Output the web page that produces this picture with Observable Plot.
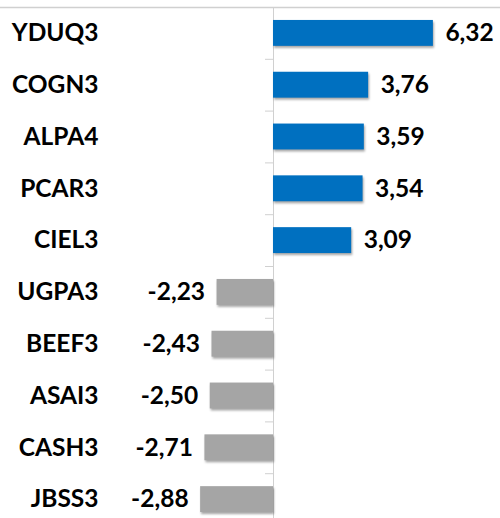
<!DOCTYPE html>
<html>
<head>
<meta charset="utf-8">
<script src="https://cdn.jsdelivr.net/npm/d3@7"></script>
<script src="https://cdn.jsdelivr.net/npm/@observablehq/plot@0.6"></script>
<style>
  html, body { margin: 0; padding: 0; background: #fff; }
  #chart svg { display: block; overflow: visible; }
  g[aria-label="bar"] rect { filter: drop-shadow(1.5px 2px 1.2px rgba(0,0,0,0.35)); }
</style>
</head>
<body>
<div id="chart"></div>
<script>
const tickers = ["YDUQ3","COGN3","ALPA4","PCAR3","CIEL3","UGPA3","BEEF3","ASAI3","CASH3","JBSS3"];
const changes = [6.32, 3.76, 3.59, 3.54, 3.09, -2.23, -2.43, -2.50, -2.71, -2.88];

const data = tickers.map((t, i) => ({ticker: t, value: changes[i]}));
const fmt = v => v.toFixed(2).replace(".", ",");
const step = 51.8;
const font = "Lato, 'Open Sans', sans-serif";
const fs = 24.5;

const chart = Plot.plot({
  width: 500,
  height: 518,
  marginTop: 0, marginBottom: 0, marginLeft: 0, marginRight: 0,
  style: { fontFamily: font, background: "#fff", overflow: "visible" },
  x: { domain: [-273 / 25.3, 227 / 25.3], range: [0, 500], axis: null },
  y: { domain: tickers, range: [7, 525], paddingInner: 0.5, paddingOuter: 0.25, round: false, axis: null },
  marks: [
    // top border line
    Plot.ruleY([tickers[0]], { y: d => d, dy: -step / 2, stroke: "#d0d0d0", strokeWidth: 1.5 }),
    // small category tick marks left of the zero line
    Plot.ruleY(tickers.slice(1), { y: d => d, dy: -step / 2, x1: -8 / 25.3, x2: 0, stroke: "#d0d0d0" }),
    // zero line
    Plot.ruleX([0], { stroke: "#d0d0d0", insetTop: 7 }),
    Plot.barX(data, {
      y: "ticker",
      x: "value",
      fill: d => d.value >= 0 ? "#0070C0" : "#A5A5A5"
    }),
    // ticker labels
    Plot.text(data, {
      y: "ticker",
      text: "ticker",
      frameAnchor: "left",
      dx: 98,
      textAnchor: "end",
      fontSize: fs,
      fontWeight: "bold",
      fill: "#000"
    }),
    // value labels
    Plot.text(data, {
      y: "ticker",
      x: "value",
      text: d => fmt(d.value),
      textAnchor: "start",
      filter: d => d.value >= 0,
      fontSize: fs,
      fontWeight: "bold",
      fill: "#000",
      dx: 12
    }),
    Plot.text(data, {
      y: "ticker",
      x: "value",
      text: d => fmt(d.value),
      textAnchor: "end",
      filter: d => d.value < 0,
      fontSize: fs,
      fontWeight: "bold",
      fill: "#000",
      dx: -12
    })
  ]
});
document.getElementById("chart").appendChild(chart);
</script>
</body>
</html>
